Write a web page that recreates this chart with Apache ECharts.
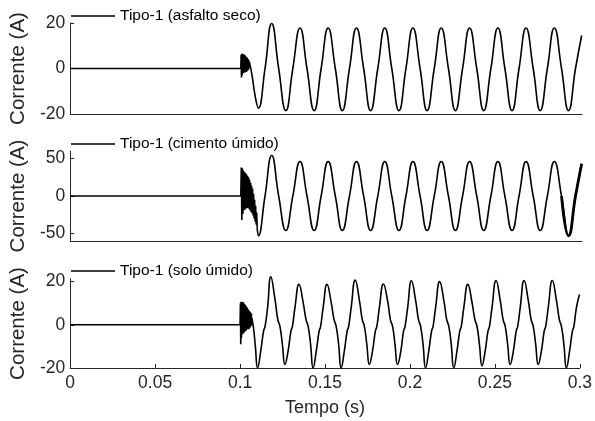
<!DOCTYPE html>
<html><head><meta charset="utf-8">
<script src="https://cdn.jsdelivr.net/npm/echarts@6/dist/echarts.min.js"></script>
<style>html,body{margin:0;padding:0;background:#fff}#c{width:595px;height:421px}</style>
</head><body><div id="c"></div>
<script>
// ---- names and ticks ----
const seriesNames = ['Tipo-1 (asfalto seco)', 'Tipo-1 (cimento úmido)', 'Tipo-1 (solo úmido)'];
const xTicks = [0, 0.05, 0.1, 0.15, 0.2, 0.25, 0.3];
const yTicksSeco = [-20, 0, 20];
const yTicksCimento = [-50, 0, 50];
const yTicksSolo = [-20, 0, 20];

// ---- pre-fault baseline (shared) ----
const tBaseline = [0, 0.1];
const iBaseline = [0, 0];

// ---- asfalto seco ----
const tNoiseSeco = [0.1000,0.1002,0.1004,0.1006,0.1008,0.1010,0.1012,0.1014,0.1016,0.1018,0.1020,0.1022,0.1024,0.1026,0.1028,0.1030,0.1032,0.1034,0.1036,0.1038,0.1040,0.1042,0.1044,0.1046,0.1048,0.1050];
const iNoiseSeco = [0,6.0,-4.0,6.5,-3.0,6.5,-2.0,6.3,-2.0,6.2,-1.8,6.0,-1.8,5.6,-1.5,5.3,-1.5,5.0,-1.2,4.6,-1.0,4.2,-0.5,3.8,0.0,3.0];
const tOnsetSeco = [0.1050, 0.1066, 0.1084, 0.1103, 0.1142];
const iOnsetSeco = [3.0, -3.0, -12.0, -17.4, 0];

// ---- shared steady-state time samples (peaks / zero crossings / troughs) ----
const tWave = [0.1181,0.1222,0.1264,0.1305,0.1347,0.1388,0.1430,0.1471,0.1512,0.1554,0.1595,0.1637,0.1678,0.1720,0.1761,0.1803,0.1844,0.1885,0.1927,0.1968,0.2009,0.2051,0.2092,0.2134,0.2175,0.2217,0.2258,0.2300,0.2341,0.2383,0.2424,0.2466,0.2507,0.2548,0.2590,0.2631,0.2672,0.2714,0.2755,0.2797,0.2838,0.2880,0.2921,0.2962,0.2998];
const iWaveSeco = [19.8,0,-18.5,0,17.8,0,-18.5,0,17.8,0,-18.5,0,17.8,0,-18.5,0,17.8,0,-18.5,0,17.8,0,-18.5,0,17.8,0,-18.5,0,17.8,0,-18.5,0,17.8,0,-18.5,0,17.8,0,-18.5,0,17.8,0,-18.5,0,14.5];

// ---- cimento úmido ----
const tNoiseCimento = [0.1000,0.1003,0.1006,0.1009,0.1012,0.1015,0.1018,0.1021,0.1024,0.1027,0.1030,0.1033,0.1036,0.1039,0.1042,0.1045,0.1048,0.1051,0.1054,0.1057,0.1060,0.1063,0.1066,0.1069,0.1072,0.1075,0.1078,0.1081,0.1084,0.1087,0.1090,0.1093,0.1096];
const iNoiseCimento = [0,38,-32,37,-24,34,-19,32,-18,31,-17,29,-16,27,-16,25,-17,22,-19,18,-21,14,-23,10,-26,3,-30,-5,-34,-13,-38,-22,-42];
const tOnsetCimento = [0.1096, 0.1103, 0.1142];
const iOnsetCimento = [-42, -53, 0];
const iWaveCimento = [54,0,-46,0,46,0,-46,0,46,0,-46,0,46,0,-46,0,46,0,-46,0,46,0,-46,0,46,0,-46,0,46,0,-46,0,46,0,-46,0,46,0,-46,0,46,0,-53,0,43];

// ---- solo úmido ----
const tNoiseSolo = [0.1000,0.1002,0.1004,0.1006,0.1008,0.1010,0.1012,0.1014,0.1016,0.1018,0.1020,0.1022,0.1024,0.1026,0.1028,0.1030,0.1032,0.1034,0.1036,0.1038,0.1040,0.1042,0.1044,0.1046,0.1048,0.1050,0.1052,0.1054,0.1056,0.1058,0.1060,0.1062,0.1064,0.1066,0.1068,0.1070];
const iNoiseSolo = [0,10.0,-9.0,10.7,-6.0,10.7,-4.5,10.6,-4.0,10.4,-4.0,10.0,-3.5,9.6,-3.0,9.2,-3.0,8.8,-2.5,8.3,-2.0,7.8,-2.0,7.3,-2.0,6.8,-2.0,6.4,-1.5,6.0,-1.0,5.6,-0.5,5.2,0.0,3.0];
const tOnsetSolo = [0.1070, 0.1080, 0.1090, 0.1103, 0.1122, 0.1138, 0.1147, 0.1162];
const iOnsetSolo = [3.0, -2.0, -10.0, -20.0, -12.0, -3.0, -0.8, 8.0];
const tWaveSolo = [
0.1181,0.1206,0.1222,0.1235,0.1249,0.1264,0.1283,0.1299,0.1308,0.1323,
0.1347,0.1372,0.1388,0.1401,0.1415,0.1430,0.1449,0.1465,0.1474,0.1489,
0.1512,0.1537,0.1553,0.1566,0.1580,0.1595,0.1614,0.1630,0.1639,0.1654,
0.1678,0.1703,0.1719,0.1732,0.1746,0.1761,0.1780,0.1796,0.1805,0.1820,
0.1844,0.1869,0.1885,0.1898,0.1912,0.1927,0.1946,0.1962,0.1971,0.1986,
0.2009,0.2034,0.2050,0.2063,0.2077,0.2092,0.2111,0.2127,0.2136,0.2151,
0.2175,0.2200,0.2216,0.2229,0.2243,0.2258,0.2277,0.2293,0.2302,0.2317,
0.2341,0.2366,0.2382,0.2395,0.2409,0.2424,0.2443,0.2459,0.2468,0.2483,
0.2507,0.2532,0.2548,0.2561,0.2575,0.2590,0.2609,0.2625,0.2634,0.2649,
0.2672,0.2697,0.2713,0.2726,0.2740,0.2755,0.2774,0.2790,0.2799,0.2814,
0.2838,0.2863,0.2879,0.2892,0.2906,0.2921,0.2940,0.2956,0.2965,0.2980,
0.2998];
const iWaveSolo = [
22.2,11.5,2.5,-0.8,-9,-18.4,-12,-3,-0.8,8,
18.7,10,2.5,-0.8,-9,-20,-12,-3,-0.8,8,
18.7,10,2.5,-0.8,-9,-20,-12,-3,-0.8,8,
20.7,11,2.5,-0.8,-9,-18.4,-12,-3,-0.8,8,
18.9,10.8,2.3,-0.8,-9.2,-18.4,-12.3,-3,-0.8,7.7,
20.4,11,2.5,-0.8,-9,-20,-12,-3,-0.8,8,
20.0,11,2.5,-0.8,-9,-20,-12,-3,-0.8,8,
18.7,10,2.5,-0.8,-9,-19,-12,-3,-0.8,8,
20.5,11,2.5,-0.8,-9,-18.4,-12,-3,-0.8,8,
20.5,11,2.5,-0.8,-9,-18.4,-12,-3,-0.8,8,
20.5,11,2.5,-0.8,-9,-20,-12,-3,-0.8,8,
14];

// ---- build ----
function pts(t, v) { return t.map((x, i) => [x, v[i]]); }
const FONT = 'Liberation Sans';
const AX = '#262626';
const LW = 1.6;

const gridDefs = [
  { left: 68, right: 13, top: 23, height: 91 },
  { left: 68, right: 13, top: 151, height: 90 },
  { left: 68, right: 13, top: 279, height: 89 }
];
const yRanges = [[-20, 20], [-60, 60], [-20, 21.2]];
const yTicks = [yTicksSeco, yTicksCimento, yTicksSolo];
const legendTops = [8, 136, 263];

const xAxes = gridDefs.map((g, i) => ({
  type: 'value', gridIndex: i, min: 0, max: 0.3,
  axisLine: { show: true, onZero: false, lineStyle: { color: AX, width: 1 } },
  splitLine: { show: false },
  axisTick: { show: i === 2, inside: true, length: 4, lineStyle: { color: AX }, customValues: xTicks },
  axisLabel: { show: i === 2, customValues: xTicks, color: AX, fontSize: 17.5, fontFamily: FONT, margin: 6,
    formatter: v => String(v) },
  name: i === 2 ? 'Tempo (s)' : '',
  nameLocation: 'middle', nameGap: 31,
  nameTextStyle: { color: AX, fontSize: 18, fontFamily: FONT }
}));
const yAxes = gridDefs.map((g, i) => ({
  type: 'value', gridIndex: i, min: yRanges[i][0], max: yRanges[i][1],
  axisLine: { show: true, lineStyle: { color: AX, width: 1 } },
  splitLine: { show: false },
  axisTick: { show: true, inside: true, length: 4, lineStyle: { color: AX }, customValues: yTicks[i] },
  axisLabel: { customValues: yTicks[i], color: AX, fontSize: 17.5, fontFamily: FONT, margin: 5 },
  name: 'Corrente (A)', nameLocation: 'middle', nameGap: 39,
  nameTextStyle: { color: AX, fontSize: 20.5, fontFamily: FONT }
}));

const lineBase = { type: 'line', symbol: 'none', showSymbol: false, clip: false,
  itemStyle: { color: '#000' }, animation: false };
function mk(i, data, smooth, width) {
  return Object.assign({}, lineBase, { name: seriesNames[i], xAxisIndex: i, yAxisIndex: i,
    data: data, smooth: smooth, lineStyle: { color: '#000', width: width || LW } });
}
const series = [
  mk(0, pts(tBaseline, iBaseline).concat(pts(tNoiseSeco, iNoiseSeco)), false),
  mk(0, pts(tOnsetSeco, iOnsetSeco).concat(pts(tWave, iWaveSeco)), 0.5),
  mk(1, pts(tBaseline, iBaseline).concat(pts(tNoiseCimento, iNoiseCimento)), false),
  mk(1, pts(tOnsetCimento, iOnsetCimento).concat(pts(tWave, iWaveCimento)), 0.5),
  mk(1, pts(tWave.slice(41), iWaveCimento.slice(41)), 0.5, 2.8),
  mk(2, pts(tBaseline, iBaseline).concat(pts(tNoiseSolo, iNoiseSolo)), false),
  mk(2, pts(tOnsetSolo, iOnsetSolo).concat(pts(tWaveSolo, iWaveSolo)), 0.5)
];
const legends = seriesNames.map((n, i) => ({
  data: [n], left: 71, top: legendTops[i], padding: 0, icon: 'rect',
  itemWidth: 44, itemHeight: 1.3, itemGap: 5, selectedMode: false,
  textStyle: { color: '#000', fontSize: 15.5, fontFamily: FONT }
}));

const chart = echarts.init(document.getElementById('c'), null, { renderer: 'canvas' });
chart.setOption({
  animation: false,
  backgroundColor: '#fff',
  grid: gridDefs,
  xAxis: xAxes,
  yAxis: yAxes,
  legend: legends,
  series: series
});
</script></body></html>
